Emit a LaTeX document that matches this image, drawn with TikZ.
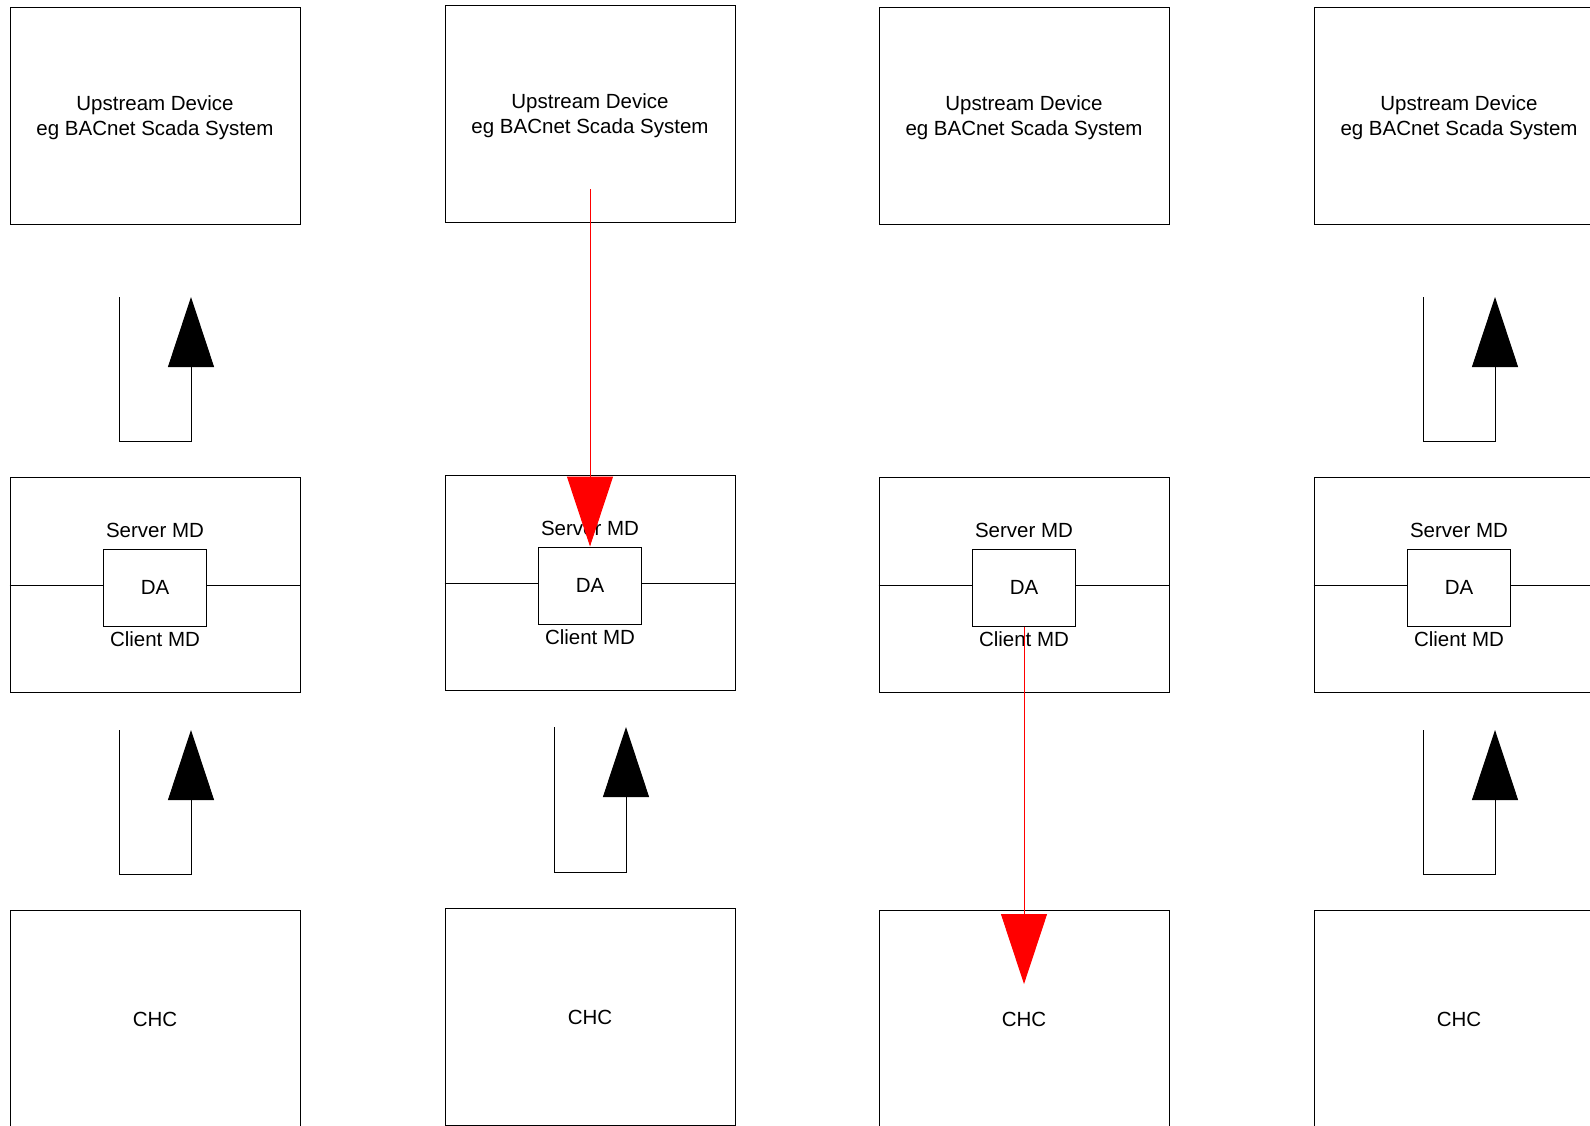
\documentclass[tikz,border=0pt]{standalone}
\usepackage{fontspec}
\setmainfont{Liberation Sans}
\usetikzlibrary{positioning,arrows.meta}
\begin{document}
\begin{tikzpicture}[x=0.5pt, y=-0.5pt,
  every node/.style={font=\fontsize{10.25}{12.7}\selectfont},
  devbox/.style={draw, line width=0.5pt, minimum width=145pt, minimum height=108.5pt, align=center, inner sep=0pt},
  mdbox/.style={devbox, minimum height=107.5pt},
  dabox/.style={draw, line width=0.5pt, minimum width=51.5pt, minimum height=38.5pt, inner sep=0pt},
  lbl/.style={inner sep=0pt},
  flow/.style={line width=0.5pt, -{Triangle[width=23pt,length=35pt]}},
  push/.style={flow, red}]
\useasboundingbox (0,0) rectangle (1590,1125);
% Columns of boxes
\foreach \i/\cx/\dy in {1/155/0, 2/590/-2, 3/1024/0, 4/1459/0} {
  \node[devbox, label={[lbl, align=center, yshift=-1pt]center:Upstream Device\\eg BACnet Scada System}] (up\i) at (\cx,115.5+\dy) {};
  \node[mdbox] (md\i) at (\cx,584.5+\dy) {};
  \node[dabox] (da\i) at (\cx,587.5+\dy) {DA};
  \node[lbl, above=5.4pt of da\i] (srv\i) {Server MD};
  \node[lbl, below=2.3pt of da\i] (cli\i) {Client MD};
  \coordinate (dw\i) at ([yshift=1pt]da\i.west);
  \coordinate (de\i) at ([yshift=1pt]da\i.east);
  \draw[line width=0.5pt] (md\i.west |- dw\i) -- (dw\i);
  \draw[line width=0.5pt] (de\i) -- (md\i.east |- de\i);
  \node[devbox] (chc\i) at (\cx,1019+\dy) {CHC};
}
% Upward loops, upper row
\coordinate (ua1) at (119,297);
\coordinate (ua4) at (1423,297);
\draw[flow] (ua1) -- ++(0,144) -- ++(72,0) -- ++(0,-144);
\draw[flow] (ua4) -- ++(0,144) -- ++(72,0) -- ++(0,-144);
% Upward loops, lower row
\coordinate (la1) at (119,730);
\coordinate (la2) at (554,727);
\coordinate (la4) at (1423,730);
\draw[flow] (la1) -- ++(0,144) -- ++(72,0) -- ++(0,-144);
\draw[flow] (la2) -- ++(0,145) -- ++(72,0) -- ++(0,-145);
\draw[flow] (la4) -- ++(0,144) -- ++(72,0) -- ++(0,-144);
% Red paths
\coordinate (src2) at (590,189);
\coordinate (sink3) at (1024,984);
\draw[push] (src2) -- (da2.north);
\draw[push] (da3.south) -- (sink3);
\end{tikzpicture}
\end{document}
